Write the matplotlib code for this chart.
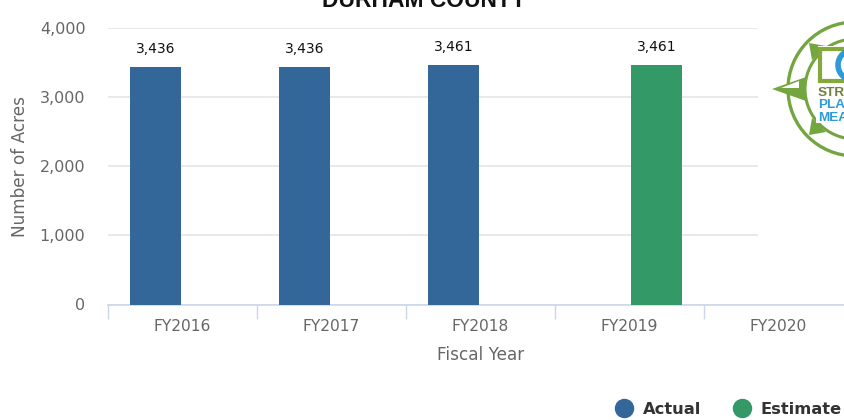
import numpy as np
import matplotlib
matplotlib.use("Agg")
import matplotlib.pyplot as plt
from matplotlib.lines import Line2D
from matplotlib.patches import Circle, Polygon, Rectangle

categories = ["FY2016", "FY2017", "FY2018", "FY2019", "FY2020"]
actual = [3436, 3436, 3461, None, None]
estimate = [None, None, None, 3461, None]
yticks = [0, 1000, 2000, 3000, 4000]
title = "DURHAM COUNTY"
xlabel = "Fiscal Year"
ylabel = "Number of Acres"
BLUE, GREEN = "#336699", "#339966"
W, H = 844, 420

fig = plt.figure(figsize=(W / 100, H / 100), dpi=100, facecolor="white")
left, right, top, bottom = 108, 853, 28, 304.5
ax = fig.add_axes([left / W, 1 - bottom / H, (right - left) / W, (bottom - top) / H])

x = np.arange(len(categories))
offset, width = 27 / 149, 50.5 / 149
for vals, off, col in ((actual, -offset, BLUE), (estimate, offset, GREEN)):
    for xi, v in zip(x, vals):
        if v is None:
            continue
        ax.bar(xi + off, v, width, color=col, zorder=3)
        ax.annotate(f"{v:,}", (xi + off, v), xytext=(0, 8), textcoords="offset points",
                    ha="center", va="bottom", fontsize=10, color="#111111",
                    family="DejaVu Sans", zorder=5)

ax.set_xlim(-0.5, len(categories) - 0.5)
ax.set_ylim(0, 4000)
ax.set_yticks(yticks)
ax.set_yticklabels([f"{t:,}" for t in yticks], fontsize=11.5, color="#666666")
ax.yaxis.grid(True, color="#e9e9e9", linewidth=1.4, zorder=0)
ax.set_axisbelow(True)
ax.tick_params(axis="y", length=0, pad=16.2)
ax.set_xticks(x)
ax.set_xticklabels(categories, fontsize=11.2, color="#666666")
ax.set_xticks(np.arange(len(categories)) - 0.5, minor=True)
ax.tick_params(axis="x", which="major", length=0, pad=10.5)
ax.tick_params(axis="x", which="minor", length=10, width=1, color="#ccd6eb")
for s in ("top", "left", "right"):
    ax.spines[s].set_visible(False)
ax.spines["bottom"].set_color("#ccd6eb")
ax.spines["bottom"].set_linewidth(1.2)
ax.set_xlabel(xlabel, fontsize=12.2, color="#666666")
ax.xaxis.set_label_coords((480.5 - left) / (right - left), -(360 - bottom) / (bottom - top), transform=ax.transAxes)
ax.xaxis.label.set_va("baseline")
ax.set_ylabel(ylabel, fontsize=12.2, color="#666666")
ax.yaxis.set_label_coords((29 - left) / (right - left), (bottom - 166.5) / (bottom - top), transform=ax.transAxes)

fig.text(424 / W, 1 - 7 / H, title, ha="center", va="baseline", fontsize=16.5,
         fontweight="bold", family="Liberation Sans", color="#111111")

handles = [Line2D([], [], marker="o", ls="", ms=13, color=BLUE, label="Actual"),
           Line2D([], [], marker="o", ls="", ms=13, color=GREEN, label="Estimate")]
leg = fig.legend(handles=handles, ncol=2, frameon=False, loc="center left",
                 bbox_to_anchor=(608 / W, 1 - 409 / H), prop={"size": 11.7, "weight": "bold"},
                 labelcolor="#333333", handletextpad=0.15, columnspacing=1.5,
                 borderpad=0, borderaxespad=0)

# Logo: decorative compass emblem, in pixel coordinates
lg = fig.add_axes([0, 0, 1, 1], facecolor="none", zorder=10)
lg.set_xlim(0, W)
lg.set_ylim(H, 0)
lg.axis("off")
LG = "#73a63f"
cx, cy = 855, 89
lg.add_patch(Rectangle((758, 0), 90, 296, color="white", lw=0))
lg.add_patch(Circle((cx, cy), 67, fill=False, ec=LG, lw=2.4))
lg.add_patch(Circle((cx, cy), 50, fill=False, ec=LG, lw=2.2))
lg.add_patch(Polygon([(772, 89), (806, 77), (806, 101)], color=LG, lw=0))
lg.add_patch(Polygon([(781, 88), (799, 81), (799, 88)], color="white", lw=0))
for px, py in ((809, 43), (809, 135)):
    sy = 1 if py < cy else -1
    lg.add_patch(Polygon([(px, py), (px + 17, py + 3 * sy), (px + 3, py + 17 * sy)], color=LG, lw=0))
lg.add_patch(Rectangle((818, 46), 40, 37, fc="white", ec="none"))
lg.add_patch(Rectangle((820, 49), 40, 32, fc="white", ec="#84a83c", lw=3))
lg.add_patch(Circle((853, 65), 15, fill=False, ec="#2e9bd6", lw=4))
lg.add_patch(Rectangle((816, 87), 30, 36, fc="white", ec="none"))
lg.text(818, 93.5, "STR", fontsize=9.7, fontweight="bold", color="#6f7f3f", family="Liberation Sans", va="center")
lg.text(818, 105, "PLA", fontsize=9.7, fontweight="bold", color="#2e9bd6", family="Liberation Sans", va="center")
lg.text(818, 118, "MEA", fontsize=9.7, fontweight="bold", color="#2e9bd6", family="Liberation Sans", va="center")

fig.savefig("out.png", dpi=100, facecolor="white")
